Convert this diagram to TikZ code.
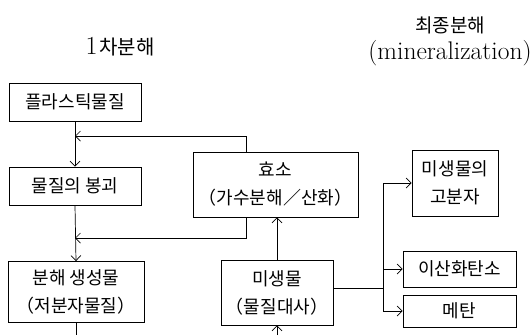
\documentclass[tikz,border=0pt]{standalone}
\usepackage{fontspec}
\newfontfamily\kr{Noto Sans CJK KR}
\usepackage{tikz}
\usetikzlibrary{arrows.meta,calc,positioning}
\tikzstyle{box}=[draw,line width=0.9pt,inner sep=2pt,align=center,font={\kr\fontsize{18}{28}\selectfont}]
\tikzstyle{title}=[inner sep=0pt,align=center]
\tikzstyle{link}=[line width=0.7pt]

\begin{document}
\begin{tikzpicture}[x=1pt,y=-1pt,>={Straight Barb[length=5pt,width=10pt]}]
  \useasboundingbox (0,0) rectangle (532,335);

  % titles
  \node[title] (t1) at (120,47) {{\fontsize{26}{30}\selectfont 1}\,{\kr\fontsize{20}{24}\selectfont 차분해}};
  \node[title] (t2) at (450,25) {\kr\fontsize{19}{24}\selectfont 최종분해};
  \node[title] (t3) at (450,53) {\fontsize{25.5}{30}\selectfont (mineralization)};

  % boxes
  \node[box,minimum width=132pt,minimum height=38pt] (n1) at (75,102)    {플라스틱물질};
  \node[box,minimum width=132pt,minimum height=38pt] (n2) at (75,186)    {물질의 봉괴};
  \node[box,minimum width=136pt,minimum height=61pt] (n3) at (76,292)    {분해 생성물\\（저분자물질）};
  \node[box,minimum width=165pt,minimum height=65pt] (n4) at (275.5,184.5) {효소\\（가수분해／산화）};
  \node[box,minimum width=112pt,minimum height=65pt] (n5) at (277,292.5)  {미생물\\（물질대사）};
  \node[box,minimum width=86pt,minimum height=66pt]  (n6) at (455,183)    {미생물의\\고분자};
  \node[box,minimum width=113pt,minimum height=36pt] (n7) at (459.5,269)  {이산화탄소};
  \node[box,minimum width=113pt,minimum height=32pt] (n8) at (459.5,311)  {메탄};

  \coordinate (m1) at (75,136);
  \coordinate (m2) at (75,238);
  \coordinate (b1) at (383,288);
  \coordinate (c1) at (75,335);
  \coordinate (c2) at (277,335);

  \foreach \from/\to in {n1/n2,n2/n3}
      \draw[link,->] (\from.south) -- (\to.north);

  \draw[link,->] ([xshift=54pt]n4.north west) |- (m1);
  \draw[link,->] ([xshift=54pt]n4.south west) |- (m2);
  \draw[link,->] (n5.north) -- (n5.north |- n4.south);

  \draw[link] (n5.east |- b1) -- (b1);
  \foreach \to in {n6,n7,n8}
      \draw[link,->] (b1) |- (\to.west);

  \draw[link] (n3.south) -- (n3.south |- c1);
  \draw[link,->] (c2) -- (n5.south);
\end{tikzpicture}
\end{document}
